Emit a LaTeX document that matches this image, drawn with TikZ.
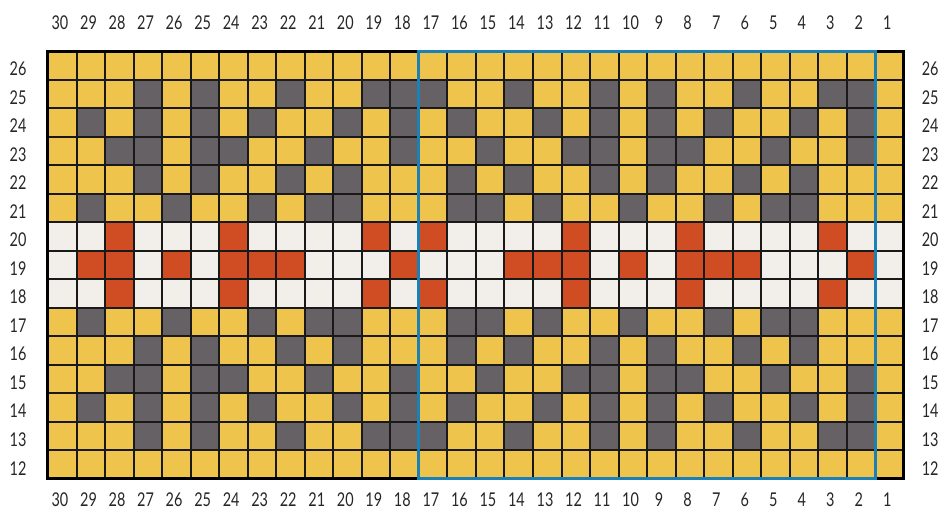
\documentclass[tikz,border=0pt]{standalone}
\usepackage{fontspec}
\usepackage{xcolor}
\usepackage{tikz}
\newfontfamily\lblfont[FakeStretch=0.76]{Lato}
\definecolor{chartyellow}{RGB}{239,196,76}
\definecolor{chartgrey}{RGB}{102,97,101}
\definecolor{chartred}{RGB}{208,77,36}
\definecolor{chartwhite}{RGB}{242,238,234}
\definecolor{repeatblue}{RGB}{27,128,181}

\begin{document}
\begin{tikzpicture}[
  x=28.53pt, y=-28.53pt,
  gridline/.style={line width=2pt, black!90},
  border/.style={line width=3pt, black},
  repeatbox/.style={line width=3pt, repeatblue},
  lbl/.style={font=\lblfont\fontsize{19}{19}\selectfont, text=black!85, inner sep=0pt}
]
\useasboundingbox (-1.682,-1.788) rectangle (31.37,16.19);

% Background colours of the bands
\fill[chartyellow] (0,0) rectangle (30,6);
\fill[chartwhite] (0,6) rectangle (30,9);
\fill[chartyellow] (0,9) rectangle (30,15);

% Grey motif, rows 21--25 mirrored to rows 17--13
\foreach \r/\m/\cells in {
  25/13/{3,5,8,11,12,13,16,19,21,24,27,28},
  24/14/{1,3,5,7,10,12,14,17,19,21,23,26,28},
  23/15/{2,3,5,6,9,12,15,18,19,21,22,25,28},
  22/16/{3,5,8,10,14,16,19,21,24,26},
  21/17/{1,4,7,9,10,14,15,17,20,23,25,26}} {
  \foreach \c in \cells {
    \fill[chartgrey] (\c,26-\r) rectangle ++(1,1);
    \fill[chartgrey] (\c,26-\m) rectangle ++(1,1);
  }
}

% Red band, rows 18--20
\foreach \r/\cells in {
  20/{2,6,11,13,18,22,27},
  19/{1,2,4,6,7,8,12,16,17,18,20,22,23,24,28},
  18/{2,6,11,13,18,22,27}} {
  \foreach \c in \cells
    \fill[chartred] (\c,26-\r) rectangle ++(1,1);
}

% Grid
\foreach \c in {1,...,29}
  \draw[gridline] (\c,0) -- (\c,15);
\foreach \i in {1,...,14}
  \draw[gridline] (0,\i) -- (30,\i);
\draw[border] (0,0) rectangle (30,15);

% Pattern repeat
\draw[repeatbox] (13,0) rectangle (29,15);

% Column numbers
\foreach \c in {0,...,29} {
  \pgfmathtruncatemacro{\n}{30-\c}
  \node[lbl] (top\n) at (\c+0.42,-1.0) {\n};
  \node[lbl] (bot\n) at (\c+0.42,15.74) {\n};
}

% Row numbers
\foreach \i in {0,...,14} {
  \pgfmathtruncatemacro{\n}{26-\i}
  \node[lbl] (left\n) at (-1.05,\i+0.62) {\n};
  \node[lbl, anchor=west] (right\n) at (30.62,\i+0.62) {\n};
}

\end{tikzpicture}
\end{document}
